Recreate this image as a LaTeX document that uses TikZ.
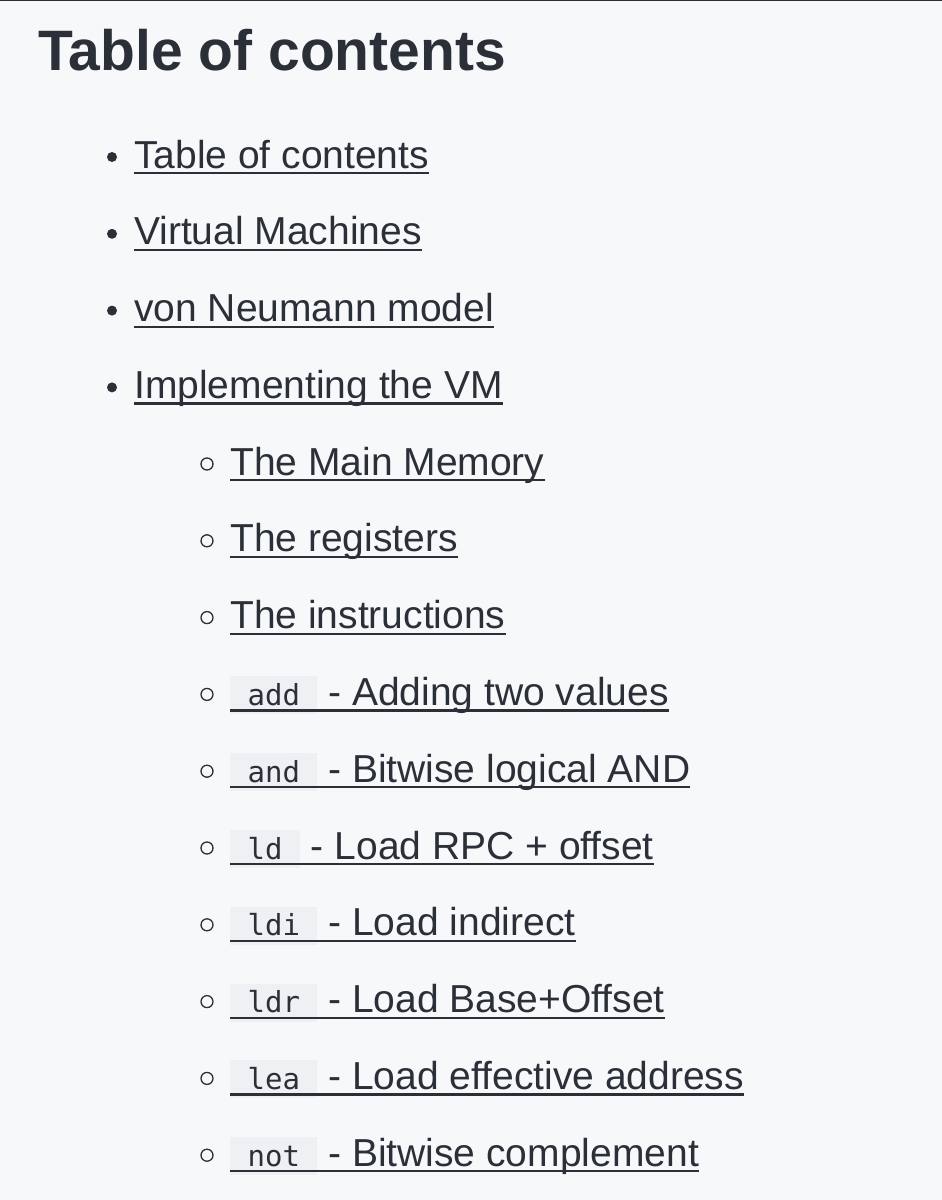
\documentclass[tikz,border=0pt]{standalone}
\usepackage{fontspec}
\setmainfont{Liberation Sans}
\newfontfamily\mono{DejaVu Sans Mono}
\definecolor{bg}{HTML}{F6F8FA}
\definecolor{fg}{HTML}{2B3038}
\definecolor{codebg}{HTML}{EEF0F3}
\newcommand{\cd}[1]{{\setlength\fboxsep{0pt}\colorbox{codebg}{\rule[-9pt]{0pt}{38pt}\mono\fontsize{29}{32}\selectfont\ #1\ }}}
\begin{document}
\begin{tikzpicture}[x=1pt,y=-1pt,
  item/.style={anchor=base west,inner sep=0pt,text=fg,font=\fontsize{39}{44}\selectfont},
  ul/.style={draw=fg,line width=2.2pt}]
\useasboundingbox[fill=bg] (0,0) rectangle (942,1200);
\draw[line width=1.5pt,fg] (0,0.5) -- (942,0.5);
\node[anchor=base west,inner sep=0pt,text=fg,font=\bfseries\fontsize{57}{62}\selectfont] (title) at (38,70) {Table of contents};
\foreach \t [count=\i] in {Table of contents,Virtual Machines,von Neumann model,Implementing the VM}{
  \node[item] (a\i) at (134,{168+76.8*(\i-1)}) {\t};
  \fill[fg] ({112},{157+76.8*(\i-1)}) circle (5);
  \draw[ul] ([yshift=-5]a\i.base west) -- ([yshift=-5]a\i.base east);
}
\foreach \t [count=\i] in {The Main Memory,The registers,The instructions,\cd{add} - Adding two values,\cd{and} - Bitwise logical AND,\cd{ld} - Load RPC + offset,\cd{ldi} - Load indirect,\cd{ldr} - Load Base+Offset,\cd{lea} - Load effective address,\cd{not} - Bitwise complement}{
  \node[item] (b\i) at (230,{475+76.8*(\i-1)}) {\t};
  \draw[fg,line width=1.3pt] ({207},{464+76.8*(\i-1)}) circle (6);
  \draw[ul] ([yshift=-5]b\i.base west) -- ([yshift=-5]b\i.base east);
}
\end{tikzpicture}
\end{document}
